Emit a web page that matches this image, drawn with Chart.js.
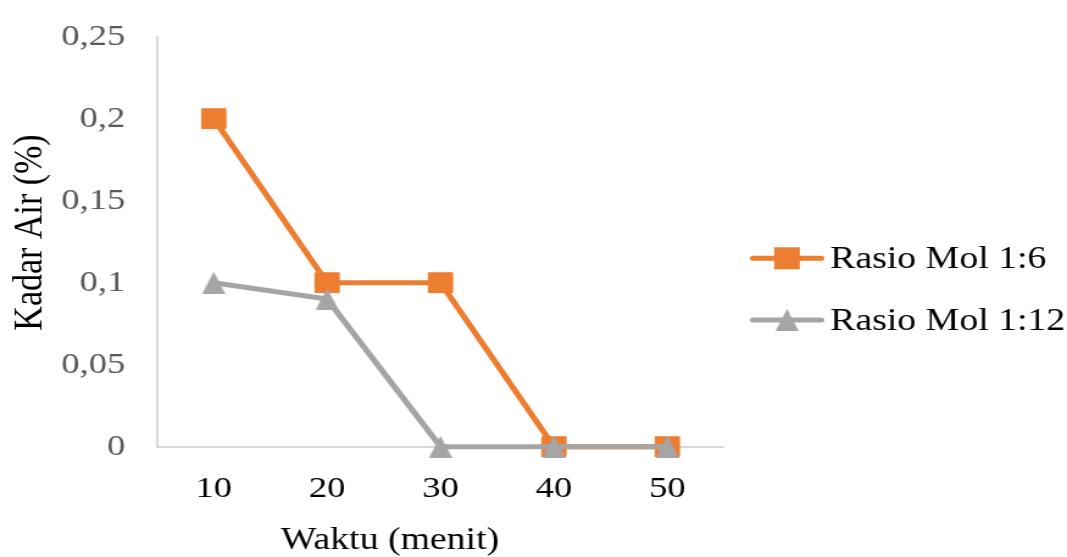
<!DOCTYPE html>
<html>
<head>
<meta charset="utf-8">
<script src="https://cdn.jsdelivr.net/npm/chart.js@4/dist/chart.umd.min.js"></script>
<style>
  html, body { margin: 0; padding: 0; background: #ffffff; }
  #c { display: block; width: 1067px !important; height: 557px !important; }
</style>
</head>
<body>
<canvas id="c" width="875" height="557" style="width:1067px;height:557px;display:block"></canvas>
<script>
// ---- data ----
const categories = ['10', '20', '30', '40', '50'];
const seriesNames = ['Rasio Mol 1:6', 'Rasio Mol 1:12'];
const mol6 = [0.2, 0.1, 0.1, 0, 0];
const mol12 = [0.1, 0.09, 0, 0, 0];
const yTickLabels = ['0', '0,05', '0,1', '0,15', '0,2', '0,25'];
const xTitle = 'Waktu (menit)';
const yTitle = 'Kadar Air (%)';

// ---- styles ----
const ORANGE = '#ED7D31';
const GRAY = '#A5A5A5';
const AXIS = '#D9D9D9';
const FONT = '"Liberation Serif", "Times New Roman", serif';

function makeTriangle(w, h, color) {
  const c = document.createElement('canvas');
  c.width = w; c.height = h;
  const g = c.getContext('2d');
  g.fillStyle = color;
  g.beginPath();
  g.moveTo(w / 2, 0);
  g.lineTo(w, h);
  g.lineTo(0, h);
  g.closePath();
  g.fill();
  return c;
}
const triImg = makeTriangle(19, 22, GRAY);

const overlay = {
  id: 'overlay',
  afterDraw(chart) {
    const ctx = chart.ctx;
    // y title
    ctx.save();
    ctx.fillStyle = '#000';
    ctx.font = '34px ' + FONT;
    ctx.textAlign = 'center';
    ctx.textBaseline = 'alphabetic';
    ctx.translate(34.4, 232.5);
    ctx.rotate(-Math.PI / 2);
    ctx.fillText(yTitle, 0, 0);
    ctx.restore();

    // x title
    ctx.save();
    ctx.fillStyle = '#000';
    ctx.font = '31px ' + FONT;
    ctx.textAlign = 'center';
    ctx.textBaseline = 'alphabetic';
    ctx.fillText(xTitle, 319.8, 549);
    ctx.restore();

    // legend
    const rows = [
      { name: seriesNames[0], color: ORANGE, y: 258.3, base: 268.3, marker: 'rect' },
      { name: seriesNames[1], color: GRAY, y: 320, base: 330, marker: 'tri' }
    ];
    rows.forEach(r => {
      ctx.save();
      ctx.strokeStyle = r.color;
      ctx.lineWidth = 5;
      ctx.lineCap = 'round';
      ctx.beginPath();
      ctx.moveTo(617.5, r.y);
      ctx.lineTo(673.5, r.y);
      ctx.stroke();
      if (r.marker === 'rect') {
        ctx.fillStyle = r.color;
        ctx.fillRect(645.4 - 10.5, r.y - 11, 21, 22);
      } else {
        ctx.drawImage(triImg, 645.4 - triImg.width / 2, r.y - triImg.height / 2);
      }
      ctx.fillStyle = '#000';
      ctx.font = '31px ' + FONT;
      ctx.textAlign = 'left';
      ctx.textBaseline = 'alphabetic';
      ctx.fillText(r.name, 680.7, r.base);
      ctx.restore();
    });
  }
};

new Chart(document.getElementById('c'), {
  type: 'line',
  data: {
    labels: categories,
    datasets: [
      {
        label: seriesNames[0],
        data: mol6,
        borderColor: ORANGE,
        backgroundColor: ORANGE,
        borderWidth: 5,
        pointStyle: 'rect',
        pointRadius: 14,
        pointBorderWidth: 1,
        pointBackgroundColor: ORANGE,
        pointBorderColor: ORANGE,
        tension: 0,
        clip: false,
        order: 1
      },
      {
        label: seriesNames[1],
        data: mol12,
        borderColor: GRAY,
        backgroundColor: GRAY,
        borderWidth: 5,
        pointStyle: triImg,
        pointRadius: 11,
        tension: 0,
        clip: false,
        order: 0
      }
    ]
  },
  options: {
    responsive: false,
    devicePixelRatio: 1,
    animation: false,
    events: [],
    layout: { autoPadding: false, padding: { top: 36.7, right: 281.3, bottom: 0, left: 0 } },
    plugins: {
      legend: { display: false },
      tooltip: { enabled: false },
      title: { display: false }
    },
    scales: {
      x: {
        type: 'category',
        offset: true,
        grid: { display: false, drawTicks: false },
        border: { display: true, color: AXIS, width: 2 },
        ticks: {
          color: '#000',
          font: { family: FONT, size: 30 },
          padding: 24,
          maxRotation: 0,
          autoSkip: false
        },
        afterFit(scale) {
          scale.height = 110.3;
          scale.paddingLeft = 0; scale.paddingRight = 0;
        }
      },
      y: {
        min: 0,
        max: 0.25,
        grid: { display: false, drawTicks: false },
        border: { display: true, color: AXIS, width: 2 },
        ticks: {
          stepSize: 0.05,
          color: '#595959',
          font: { family: FONT, size: 30 },
          padding: 26,
          callback: (value) => yTickLabels[Math.round(value / 0.05)]
        },
        afterFit(scale) {
          scale.width = 128.75;
          scale.paddingTop = 0; scale.paddingBottom = 0;
        }
      }
    }
  },
  plugins: [overlay]
});
</script>
</body>
</html>
